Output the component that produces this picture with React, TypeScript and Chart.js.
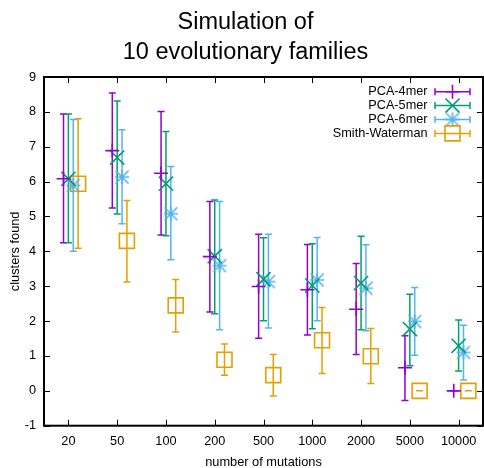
import React, { useEffect, useRef } from 'react';
import { Chart, registerables } from 'chart.js';
import { drawPoint } from 'chart.js/helpers';

Chart.register(...registerables);

const categories = ['20', '50', '100', '200', '500', '1000', '2000', '5000', '10000'];

const pca4 = [6.08, 6.89, 6.24, 3.85, 2.99, 2.90, 2.34, 0.66, 0.0];
const pca4Low = [4.25, 5.24, 4.47, 2.26, 1.51, 1.60, 1.04, -0.28, 0.0];
const pca4High = [7.94, 8.54, 8.01, 5.43, 4.49, 4.20, 3.65, 1.58, 0.0];

const pca5 = [6.08, 6.69, 5.94, 3.86, 3.20, 3.02, 3.09, 1.77, 1.29];
const pca5Low = [4.25, 5.07, 4.45, 2.21, 2.01, 1.78, 1.75, 0.72, 0.57];
const pca5High = [7.94, 8.31, 7.44, 5.47, 4.39, 4.22, 4.43, 2.77, 2.03];

const pca6 = [5.89, 6.13, 5.08, 3.59, 3.13, 3.18, 2.94, 1.99, 1.10];
const pca6Low = [4.00, 4.79, 3.76, 1.75, 1.80, 2.01, 1.72, 1.02, 0.31];
const pca6High = [7.78, 7.49, 6.43, 5.43, 4.49, 4.40, 4.19, 2.96, 1.88];

const sw = [5.94, 4.30, 2.45, 0.89, 0.45, 1.45, 0.99, 0.0, 0.0];
const swLow = [4.09, 3.12, 1.69, 0.45, -0.15, 0.50, 0.21, 0.0, 0.0];
const swHigh = [7.80, 5.46, 3.19, 1.34, 1.04, 2.39, 1.79, 0.0, 0.0];

const yTicks = [-1, 0, 1, 2, 3, 4, 5, 6, 7, 8, 9];

const FONT = "'Liberation Sans', Arial, sans-serif";

function makeStar(color: string) {
  const c = document.createElement('canvas');
  c.width = 18;
  c.height = 18;
  const g = c.getContext('2d')!;
  g.strokeStyle = color;
  g.lineWidth = 1.6;
  g.beginPath();
  g.moveTo(2, 9); g.lineTo(16, 9);
  g.moveTo(9, 2); g.lineTo(9, 16);
  g.moveTo(2.5, 2.5); g.lineTo(15.5, 15.5);
  g.moveTo(15.5, 2.5); g.lineTo(2.5, 15.5);
  g.stroke();
  return c;
}

export default function App() {
  const ref = useRef<HTMLCanvasElement>(null);

  useEffect(() => {
    document.body.style.margin = '0';
    const series = [
      { label: 'PCA-4mer', color: '#9400D3', style: 'cross' as any, radius: 7, offset: -0.1, values: pca4, low: pca4Low, high: pca4High },
      { label: 'PCA-5mer', color: '#009E73', style: 'crossRot' as any, radius: 10, offset: 0, values: pca5, low: pca5Low, high: pca5High },
      { label: 'PCA-6mer', color: '#56B4E9', style: makeStar('#56B4E9') as any, radius: 8, offset: 0.1, values: pca6, low: pca6Low, high: pca6High },
      { label: 'Smith-Waterman', color: '#E69F00', style: 'rect' as any, radius: 10.6, offset: 0.2, values: sw, low: swLow, high: swHigh },
    ];

    const CAP = 3.5;

    const errorBars = {
      id: 'errorBars',
      beforeDatasetsDraw(chart: any) {
        const ctx = chart.ctx;
        const xs = chart.scales.x;
        const ys = chart.scales.y;
        ctx.save();
        series.forEach((s) => {
          ctx.strokeStyle = s.color;
          ctx.lineWidth = 1.5;
          s.values.forEach((_v, i) => {
            const px = xs.getPixelForValue(i + 1 + s.offset);
            const yl = ys.getPixelForValue(s.low[i]);
            const yh = ys.getPixelForValue(s.high[i]);
            ctx.beginPath();
            ctx.moveTo(px, yl); ctx.lineTo(px, yh);
            ctx.moveTo(px - CAP, yl); ctx.lineTo(px + CAP, yl);
            ctx.moveTo(px - CAP, yh); ctx.lineTo(px + CAP, yh);
            ctx.stroke();
          });
        });
        ctx.restore();
      },
    };

    const frame = {
      id: 'frame',
      afterDraw(chart: any) {
        const ctx = chart.ctx;
        const { left, right, top, bottom } = chart.chartArea;
        const xs = chart.scales.x;
        const ys = chart.scales.y;
        ctx.save();
        ctx.strokeStyle = '#000';
        ctx.lineWidth = 1;
        ctx.beginPath();
        ys.ticks.forEach((t: any) => {
          const py = Math.round(ys.getPixelForValue(t.value)) + 0.5;
          ctx.moveTo(left, py); ctx.lineTo(left + 6, py);
          ctx.moveTo(right, py); ctx.lineTo(right - 6, py);
        });
        xs.ticks.forEach((t: any) => {
          const px = Math.round(xs.getPixelForValue(t.value)) + 0.5;
          ctx.moveTo(px, bottom); ctx.lineTo(px, bottom - 6);
          ctx.moveTo(px, top); ctx.lineTo(px, top + 6);
        });
        ctx.stroke();
        ctx.lineWidth = 2;
        ctx.strokeRect(left, top, right - left, bottom - top);

        // legend
        ctx.font = `12.7px ${FONT}`;
        ctx.textAlign = 'right';
        ctx.textBaseline = 'middle';
        series.forEach((s, i) => {
          const y = 91.7 + i * 13.9;
          ctx.fillStyle = '#000';
          ctx.fillText(chart.data.datasets[i].label, 427.5, y);
          ctx.strokeStyle = s.color;
          ctx.lineWidth = 1.5;
          ctx.beginPath();
          ctx.moveTo(435, y); ctx.lineTo(470, y);
          ctx.moveTo(435, y - CAP); ctx.lineTo(435, y + CAP);
          ctx.moveTo(470, y - CAP); ctx.lineTo(470, y + CAP);
          ctx.stroke();
          ctx.lineWidth = 1.6;
          ctx.fillStyle = 'rgba(0,0,0,0)';
          drawPoint(ctx, { pointStyle: s.style, radius: s.radius, rotation: 0, borderWidth: 1.6 } as any, 452.5, y);
        });
        ctx.restore();
      },
    };

    const chart = new Chart(ref.current!, {
      type: 'scatter',
      data: {
        datasets: series.map((s) => ({
          label: s.label,
          data: s.values.map((v, i) => ({ x: i + 1 + s.offset, y: v })),
          pointStyle: s.style,
          pointRadius: s.radius,
          pointBorderColor: s.color,
          pointBackgroundColor: 'rgba(0,0,0,0)',
          pointBorderWidth: 1.6,
          borderColor: s.color,
          backgroundColor: 'rgba(0,0,0,0)',
          showLine: false,
        })),
      },
      options: {
        responsive: false,
        animation: false,
        devicePixelRatio: 1,
        events: [],
        font: { family: FONT },
        layout: { autoPadding: false, padding: { left: 8, right: 1, top: 0, bottom: 0 } },
        plugins: {
          legend: { display: false },
          tooltip: { enabled: false },
          title: {
            display: true,
            text: ['Simulation of', '10 evolutionary families'],
            color: '#000',
            font: { family: FONT, size: 23.5, weight: 'normal', lineHeight: '30px' },
            padding: { top: 7.7, bottom: 9.3 },
          },
        },
        scales: {
          x: {
            type: 'linear',
            min: 0.5,
            max: 9.5,
            afterBuildTicks: (scale: any) => {
              scale.ticks = categories.map((_c, i) => ({ value: i + 1 }));
            },
            afterFit: (scale: any) => {
              scale.height = 42.3;
              scale.paddingLeft = 0;
              scale.paddingRight = 0;
            },
            ticks: {
              callback: (v: any) => categories[Math.round(v) - 1] ?? '',
              color: '#000',
              font: { family: FONT, size: 12.7 },
              padding: 8,
              autoSkip: false,
              maxRotation: 0,
            },
            grid: { display: false, drawTicks: false },
            border: { display: false },
            title: {
              display: true,
              text: 'number of mutations',
              color: '#000',
              font: { family: FONT, size: 12.8, lineHeight: '12px' },
              padding: 0,
            },
          },
          y: {
            type: 'linear',
            min: -1,
            max: 9,
            afterBuildTicks: (scale: any) => {
              scale.ticks = yTicks.map((v) => ({ value: v }));
            },
            afterFit: (scale: any) => {
              scale.width = 36;
              scale.paddingTop = 0;
              scale.paddingBottom = 0;
            },
            ticks: {
              color: '#000',
              font: { family: FONT, size: 12.7 },
              padding: 8,
            },
            grid: { display: false, drawTicks: false },
            border: { display: false },
            title: {
              display: true,
              text: 'clusters found',
              color: '#000',
              font: { family: FONT, size: 12.8, lineHeight: '15px' },
              padding: 0,
            },
          },
        },
      },
      plugins: [errorBars, frame],
    } as any);

    return () => chart.destroy();
  }, []);

  return (
    <div style={{ position: 'absolute', left: 0, top: 0, width: 484, height: 468 }}>
      <canvas ref={ref} width={484} height={468} style={{ display: 'block' }} />
    </div>
  );
}
